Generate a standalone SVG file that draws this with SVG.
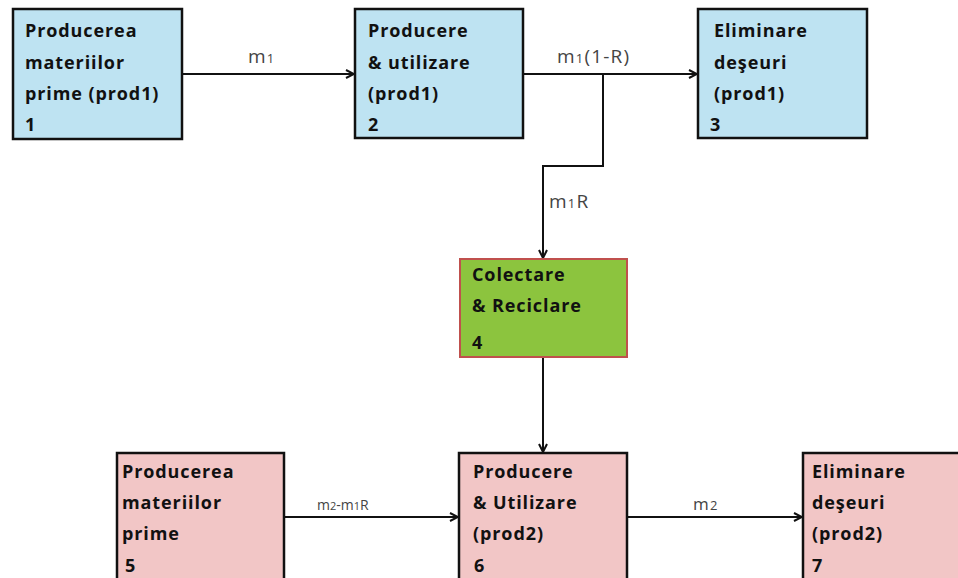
<svg xmlns="http://www.w3.org/2000/svg" width="958" height="578" viewBox="0 0 958 578">
<style>
.bx{stroke:#111;stroke-width:2.5}
.blue{fill:#bee3f2}
.green{fill:#8cc43e;stroke:#c0504d;stroke-width:2}
.pink{fill:#f2c6c6}
.t{font-family:"Open Sans","Liberation Sans",sans-serif;font-weight:bold;font-size:18px;fill:#111;letter-spacing:0.9px}
.l{font-family:"Open Sans","Liberation Sans",sans-serif;font-size:19px;fill:#444;letter-spacing:1.2px}
.l2{font-family:"Open Sans","Liberation Sans",sans-serif;font-size:14px;fill:#444}
.s{font-size:13px}
.s2{font-size:11px}
.c{fill:none;stroke:#111;stroke-width:2}
</style>
<defs>
<marker id="ah" viewBox="0 0 10 10" refX="9" refY="5" markerWidth="10" markerHeight="10" markerUnits="userSpaceOnUse" orient="auto">
<path d="M1,1 L9,5 L1,9" fill="none" stroke="#111" stroke-width="2"/>
</marker>
</defs>
<g id="connectors">
<line class="c" x1="182" y1="74" x2="354" y2="74" marker-end="url(#ah)"/>
<line class="c" x1="523" y1="74" x2="697" y2="74" marker-end="url(#ah)"/>
<polyline class="c" points="603,74 603,166 543,166 543,258" marker-end="url(#ah)"/>
<line class="c" x1="543" y1="357" x2="543" y2="452" marker-end="url(#ah)"/>
<line class="c" x1="284" y1="517" x2="458" y2="517" marker-end="url(#ah)"/>
<line class="c" x1="627" y1="517" x2="802" y2="517" marker-end="url(#ah)"/>
<text class="l" x="248" y="63">m<tspan class="s">1</tspan></text>
<text class="l" x="557" y="63">m<tspan class="s">1</tspan>(1-R)</text>
<text class="l" x="549" y="208">m<tspan class="s">1</tspan>R</text>
<text class="l2" x="317" y="510">m<tspan class="s2">2</tspan>-m<tspan class="s2">1</tspan>R</text>
<text class="l" x="693" y="510" style="font-size:17px">m<tspan class="s">2</tspan></text>
</g>
<g id="n1">
<rect class="bx blue" x="13" y="9" width="169" height="130"/>
<text class="t" x="25" y="37">Producerea</text>
<text class="t" x="25" y="69">materiilor</text>
<text class="t" x="25" y="100">prime (prod1)</text>
<text class="t" x="25" y="131">1</text>
</g>
<g id="n2">
<rect class="bx blue" x="355" y="9" width="168" height="129"/>
<text class="t" x="368" y="37">Producere</text>
<text class="t" x="368" y="69">&amp; utilizare</text>
<text class="t" x="368" y="100">(prod1)</text>
<text class="t" x="368" y="131">2</text>
</g>
<g id="n3">
<rect class="bx blue" x="698" y="9" width="169" height="129"/>
<text class="t" x="714" y="37">Eliminare</text>
<text class="t" x="714" y="69">deşeuri</text>
<text class="t" x="714" y="100">(prod1)</text>
<text class="t" x="710" y="131">3</text>
</g>
<g id="n4">
<rect class="green" x="460" y="259" width="167" height="98"/>
<text class="t" x="472" y="281">Colectare</text>
<text class="t" x="472" y="312">&amp; Reciclare</text>
<text class="t" x="472" y="349">4</text>
</g>
<g id="n5">
<rect class="bx pink" x="117" y="453" width="167" height="140"/>
<text class="t" x="122" y="478">Producerea</text>
<text class="t" x="122" y="509">materiilor</text>
<text class="t" x="122" y="540">prime</text>
<text class="t" x="125" y="572">5</text>
</g>
<g id="n6">
<rect class="bx pink" x="459" y="453" width="168" height="140"/>
<text class="t" x="473" y="478">Producere</text>
<text class="t" x="473" y="509">&amp; Utilizare</text>
<text class="t" x="473" y="540">(prod2)</text>
<text class="t" x="474" y="572">6</text>
</g>
<g id="n7">
<rect class="bx pink" x="803" y="453" width="175" height="140"/>
<text class="t" x="812" y="478">Eliminare</text>
<text class="t" x="812" y="509">deşeuri</text>
<text class="t" x="812" y="540">(prod2)</text>
<text class="t" x="812" y="572">7</text>
</g>
</svg>
